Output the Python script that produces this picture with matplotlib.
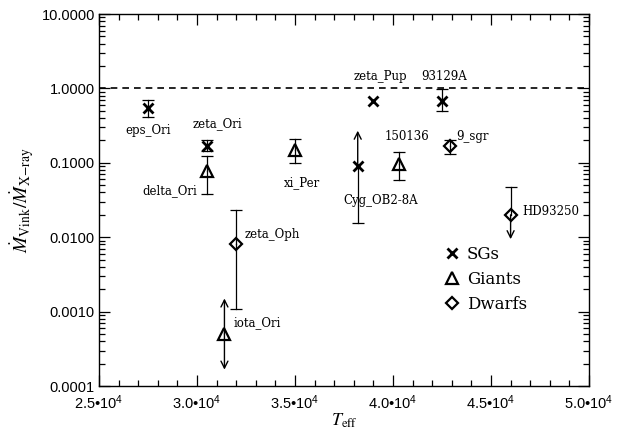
import matplotlib
matplotlib.use('Agg')
import matplotlib.pyplot as plt
from matplotlib.lines import Line2D
from matplotlib.ticker import FuncFormatter, MultipleLocator, LogLocator

# Data
names = ['eps_Ori', 'zeta_Ori', 'delta_Ori', 'iota_Ori', 'zeta_Oph', 'xi_Per',
         'Cyg_OB2-8A', 'zeta_Pup', '150136', '93129A', '9_sgr', 'HD93250']
teff = [27500, 30500, 30500, 31400, 32000, 35000,
        38200, 39000, 40300, 42500, 42900, 46000]
ratio = [0.54, 0.17, 0.078, 0.0005, 0.0082, 0.15,
         0.090, 0.68, 0.095, 0.68, 0.17, 0.020]
ratio_lo = [0.41, 0.145, 0.038, 0.000166, 0.0011, 0.10,
            0.0155, None, 0.058, 0.49, 0.13, 0.0094]
ratio_hi = [0.69, 0.20, 0.125, 0.0015, 0.0235, 0.21,
            0.27, None, 0.14, 0.97, 0.20, 0.048]
lo_arrow = [False, False, False, True, False, False,
            False, False, False, False, False, True]
hi_arrow = [False, False, False, True, False, False,
            True, False, False, False, False, False]
star_class = ['SG', 'SG', 'Giant', 'Giant', 'Dwarf', 'Giant',
              'SG', 'SG', 'Giant', 'SG', 'Dwarf', 'Dwarf']

# Label placement (offset in pixels from the point, alignment)
label_specs = {
    'eps_Ori':    (0, -22, 'center'),
    'zeta_Ori':   (11, 22, 'center'),
    'delta_Ori':  (-37, -20, 'center'),
    'iota_Ori':   (9, 11, 'left'),
    'zeta_Oph':   (8, 9, 'left'),
    'xi_Per':     (7, -33, 'center'),
    'Cyg_OB2-8A': (23, -34, 'center'),
    'zeta_Pup':   (7, 24, 'center'),
    '150136':     (8, 28, 'center'),
    '93129A':     (2, 24, 'center'),
    '9_sgr':      (6, 9, 'left'),
    'HD93250':    (12, 3, 'left'),
}

marker_style = {
    'SG':    dict(marker='x', markersize=7, markeredgewidth=2.0, markerfacecolor='k'),
    'Giant': dict(marker='^', markersize=9, markeredgewidth=1.6, markerfacecolor='none'),
    'Dwarf': dict(marker='D', markersize=6, markeredgewidth=1.6, markerfacecolor='none'),
}

plt.rcParams['mathtext.fontset'] = 'stix'
serif = 'DejaVu Serif'
sans = 'Liberation Sans'

fig = plt.figure(figsize=(6.28, 4.34), dpi=100)
ax = fig.add_axes([99 / 628, 1 - 386 / 434, 490 / 628, 372 / 434])
ax.set_yscale('log')
ax.set_xlim(25000, 50000)
ax.set_ylim(1e-4, 10)

ax.axhline(1.0, color='k', lw=1.2, ls=(0, (4, 3)), zorder=1)

px = 0.72  # pixels -> points at dpi 100
arrow_props = dict(arrowstyle='->,head_length=0.5,head_width=0.25',
                   lw=1.0, color='k', shrinkA=0, shrinkB=0)
for i, name in enumerate(names):
    x, y = teff[i], ratio[i]
    lo, hi = ratio_lo[i], ratio_hi[i]
    if lo is not None:
        # lower half: capped bar or arrow
        if lo_arrow[i]:
            ax.annotate('', xy=(x, lo), xytext=(x, y), arrowprops=arrow_props)
        else:
            ax.plot([x, x], [lo, y], color='k', lw=0.9)
            ax.plot([x], [lo], marker='_', color='k', markersize=8, mew=0.9)
        # upper half
        if hi_arrow[i]:
            ax.annotate('', xy=(x, hi), xytext=(x, y), arrowprops=arrow_props)
        else:
            ax.plot([x, x], [y, hi], color='k', lw=0.9)
            ax.plot([x], [hi], marker='_', color='k', markersize=8, mew=0.9)
    ax.plot([x], [y], linestyle='none', color='k', markeredgecolor='k',
            zorder=5, **marker_style[star_class[i]])
    dx, dy, ha = label_specs[name]
    ax.annotate(name, (x, y), xytext=(dx * px, dy * px), textcoords='offset points',
                ha=ha, va='center', fontsize=8.5, family=serif)

# Legend
handles = [Line2D([], [], linestyle='none', color='k', **marker_style[c])
           for c in ['SG', 'Giant', 'Dwarf']]
ax.legend(handles, ['SGs', 'Giants', 'Dwarfs'], loc='upper left',
          bbox_to_anchor=(0.69, 0.40), frameon=False, handlelength=0.8,
          handletextpad=0.5, labelspacing=0.5, borderpad=0,
          prop=dict(family=serif, size=12))

# Axes styling
ax.xaxis.set_major_locator(MultipleLocator(5000))
ax.xaxis.set_minor_locator(MultipleLocator(1000))
ax.yaxis.set_major_locator(LogLocator(base=10, numticks=10))
ax.yaxis.set_minor_locator(LogLocator(base=10, subs=range(2, 10), numticks=20))
ax.xaxis.set_major_formatter(FuncFormatter(
    lambda v, pos: '%.1f\u202210$^{\\mathregular{4}}$' % (v / 1e4)))
ax.yaxis.set_major_formatter(FuncFormatter(lambda v, pos: '%.4f' % v))
ax.tick_params(which='both', direction='in', top=True, right=True, width=0.9)
ax.tick_params(which='major', length=8)
ax.tick_params(which='minor', length=4)
ax.tick_params(axis='x', which='major', pad=5, labelsize=10.5)
ax.tick_params(axis='y', which='major', pad=3, labelsize=10.5)
for lab in ax.get_xticklabels() + ax.get_yticklabels():
    lab.set_family(sans)
for sp in ax.spines.values():
    sp.set_linewidth(1.0)

ax.set_xlabel(r'$T_{\rm eff}$', fontsize=13, labelpad=0)
ax.set_ylabel(r'$\dot{M}_{\rm Vink}/\dot{M}_{\rm X\!-\!ray}$', fontsize=14, labelpad=4)

fig.savefig('out.png', dpi=100)
